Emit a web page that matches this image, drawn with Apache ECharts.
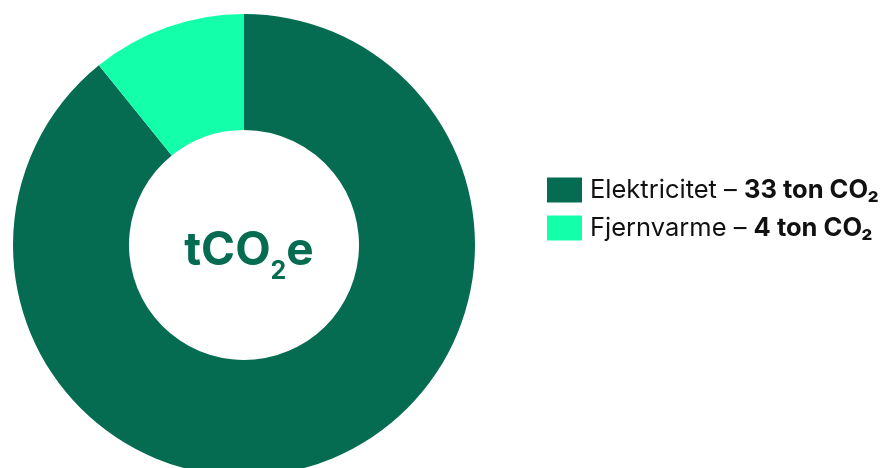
<!DOCTYPE html>
<html><head><meta charset="utf-8">
<script src="https://cdn.jsdelivr.net/npm/echarts@6/dist/echarts.min.js"></script>
<style>html,body{margin:0;padding:0;background:#fff}#c{width:886px;height:468px}</style>
</head><body><div id="c"></div>
<script>
const categories = ['Elektricitet', 'Fjernvarme'];
const values = [33, 4];
const unitLabel = 'ton CO₂';
const colors = ['#056c51', '#13ffa9'];

const chart = echarts.init(document.getElementById('c'), null, {renderer: 'canvas'});
const FONT = 'Inter, "Noto Sans", sans-serif';
chart.setOption({
  animation: false,
  color: colors,
  title: {
    text: '{a|tCO}{b|2}{a|e}',
    left: 244, top: 246, textAlign: 'center', textVerticalAlign: 'middle',
    textStyle: {
      rich: {
        a: {fontFamily: FONT, fontSize: 46, fontWeight: 'bold', color: '#056c51', verticalAlign: 'bottom', lineHeight: 46},
        b: {fontFamily: FONT, fontSize: 25, fontWeight: 'bold', color: '#056c51', verticalAlign: 'bottom', padding: [0, 0, -10, 0], lineHeight: 25}
      }
    }
  },
  legend: {
    orient: 'vertical', left: 542, top: 172,
    itemWidth: 35, itemHeight: 25, itemGap: 12,
    icon: 'rect',
    data: categories,
    formatter: function (name) {
      const i = categories.indexOf(name);
      return '{n|' + name + ' – }{v|' + values[i] + ' ' + unitLabel + '}';
    },
    textStyle: {
      padding: [0, 0, 0, 3],
      rich: {
        n: {fontFamily: FONT, fontSize: 25.5, color: '#111', fontWeight: 'normal'},
        v: {fontFamily: FONT, fontSize: 25.5, color: '#111', fontWeight: 'bold'}
      }
    }
  },
  series: [{
    type: 'pie',
    center: [244, 245],
    radius: [115, 231],
    startAngle: 90,
    clockwise: true,
    label: {show: false},
    labelLine: {show: false},
    itemStyle: {borderWidth: 0},
    emphasis: {disabled: true},
    data: categories.map((n, i) => ({name: n, value: values[i]}))
  }]
});
</script></body></html>
